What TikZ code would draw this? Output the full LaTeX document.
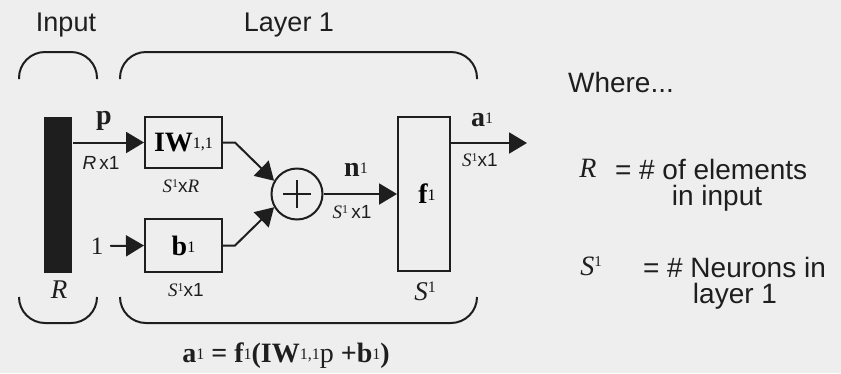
\documentclass[tikz,border=0pt]{standalone}
\usepackage{fontspec}
\setmainfont{Liberation Sans}
\newfontfamily\tm{Liberation Serif}
\usetikzlibrary{arrows.meta}
\definecolor{bgc}{RGB}{238,238,238}
\definecolor{ink}{RGB}{30,30,30}
\newcommand\lsup[1]{\raisebox{3pt}{\fontsize{16}{16}\selectfont\tm\mdseries\upshape #1}}
\newcommand\hsup[3]{\raisebox{#1}{\fontsize{#2}{#2}\selectfont\tm\mdseries\upshape #3}}
\newcommand\Sone{{\tm\itshape S}\hsup{4.5pt}{12}{1}}
\begin{document}
\begin{tikzpicture}[x=1pt,y=-1pt,line width=2pt,draw=ink,
  arr/.style={-{Triangle[length=18pt,width=21pt]}},
  box/.style={draw,inner sep=0pt},
  brc/.style={rounded corners=26pt},
  txt/.style={inner sep=0pt,text=ink},
  sf/.style={txt,font=\fontsize{27}{30}\selectfont},
  sfr/.style={txt,font=\fontsize{28}{31}\selectfont},
  dimsf/.style={txt,font=\fontsize{19}{22}\selectfont},
  mb/.style={txt,font=\tm\bfseries\fontsize{28}{32}\selectfont},
  it/.style={txt,font=\tm\itshape\fontsize{27}{30}\selectfont},
  itr/.style={txt,font=\tm\itshape\fontsize{28}{31}\selectfont}]
\fill[bgc] (0,0) rectangle (841,373);
\useasboundingbox (0,0) rectangle (841,373);
% titles and braces
\node[sf] (tin) at (66,25) {Input};
\node[sf] (tlay) at (289,25) {Layer 1};
\draw[brc] (19,79) -- (19,52) -- (97,52) -- (97,79);
\draw[brc] (120,79) -- (120,52) -- (477,52) -- (477,79);
\draw[brc] (19,297) -- (19,323) -- (97,323) -- (97,297);
\draw[brc] (120,297) -- (120,323) -- (477,323) -- (477,297);
% blocks
\node[fill=ink,minimum width=28pt,minimum height=156pt,inner sep=0pt] (bar) at (57.5,195) {};
\node[box,minimum width=77pt,minimum height=51pt,font=\tm\bfseries\fontsize{28}{32}\selectfont] (iw) at (183.5,142.5) {IW\lsup{1,1}};
\node[box,minimum width=77pt,minimum height=53pt,font=\tm\bfseries\fontsize{28}{32}\selectfont] (b) at (183.5,245.5) {b\lsup{1}};
\node[draw,circle,minimum size=51pt,inner sep=0pt] (sum) at (297,194) {};
\draw (sum.center) +(-14,0) -- +(14,0);
\draw (sum.center) +(0,-14) -- +(0,14);
\node[box,minimum width=52pt,minimum height=154pt,font=\tm\bfseries\fontsize{28}{32}\selectfont] (f) at (424,194) {\hspace{6pt}f\lsup{1}};
\node[txt,font=\tm\fontsize{25}{28}\selectfont] (one) at (97,246) {1};
\coordinate (aout) at (527,143);
% connectors
\draw[arr] (bar.east |- iw.west) -- (iw.west);
\draw[arr] ([xshift=6pt]one.east) -- (b.west);
\draw[arr] (iw.east) -- ++(12,0) -- (sum.150);
\draw[arr] (b.east) -- ++(12,0) -- (sum.210);
\draw[arr] (sum.east) -- (sum.east -| f.west);
\draw[arr] (f.east |- aout) -- (aout);
% labels
\node[mb] (lp) at (104,121) {p};
\node[dimsf] (lrx) at (101,163) {{\itshape R}\,x1};
\node[dimsf] (liwd) at (181,186) {\Sone x{\tm\itshape R}};
\node[dimsf] (lbd) at (186,290) {\Sone x1};
\node[mb] (ln) at (356,170) {n\lsup{1}};
\node[dimsf] (lnd) at (352,212) {\Sone\,x1};
\node[mb] (la) at (482,120) {a\lsup{1}};
\node[dimsf] (lad) at (480,160) {\Sone x1};
\node[it] (lbarR) at (59,290) {R};
\node[it] (lfS) at (425,291) {S\hsup{8pt}{16}{1}};
\node[mb] (form) at (286,356) {a\lsup{1} = f\lsup{1}(IW\lsup{1,1}{\mdseries p} +b\lsup{1})};
% where
\node[sfr] (where) at (621,82) {Where...};
\node[itr] (rR) at (588,168) {R};
\node[sfr,anchor=west] (rdef) at (614,169) {= \# of elements};
\node[sfr] (rdef2) at (717,198) {in input};
\node[itr] (rS) at (591,266) {S\hsup{8.5pt}{15}{1}};
\node[sfr,anchor=west] (sdef) at (642,267) {= \# Neurons in};
\node[sfr] (sdef2) at (735,296) {layer 1};
\end{tikzpicture}
\end{document}
